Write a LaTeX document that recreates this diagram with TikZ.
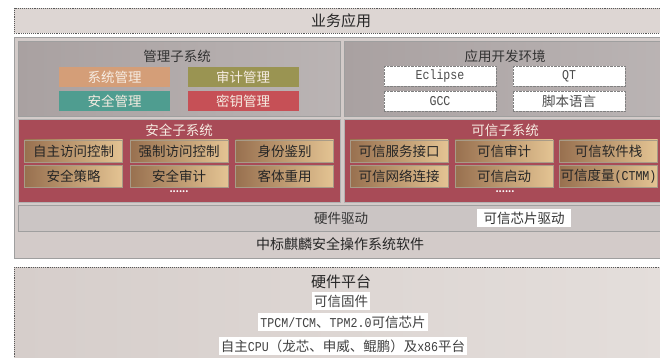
\documentclass[tikz,border=0pt]{standalone}
\usepackage{fontspec}
\setmainfont{Noto Sans CJK SC}
\newfontfamily\latmono{Liberation Mono}[FakeStretch=0.86]

\definecolor{bgtop}{HTML}{DDD6D3}
\definecolor{osgray}{HTML}{D3CBC9}
\definecolor{drvgray}{HTML}{CBC5C4}
\definecolor{hwgray}{HTML}{D6CECB}
\definecolor{hwlight}{HTML}{E4DEDB}
\definecolor{pnldark}{HTML}{A9A1A1}
\definecolor{pnllight}{HTML}{D9D3D1}
\definecolor{mtan}{HTML}{D49E78}
\definecolor{molive}{HTML}{9A9452}
\definecolor{mteal}{HTML}{4F9D90}
\definecolor{mred}{HTML}{C65056}
\definecolor{secred}{HTML}{A84B57}
\definecolor{btnl}{HTML}{98704F}
\definecolor{btnr}{HTML}{E4C493}
\definecolor{cream}{HTML}{F6ECE2}

\begin{document}
\begin{tikzpicture}[x=1pt,y=-1pt,
  every node/.style={font=\fontsize{13.5}{16}\selectfont,text=black!80},
  panel/.style={draw=gray!75,line width=1pt},
  dotbox/.style={draw=black!65,densely dotted,line width=0.9pt},
  title/.style={font=\fontsize{15}{18}\selectfont,text=black!85},
  mbtn/.style={minimum width=111pt,minimum height=20pt,inner sep=0pt,text=cream},
  wbox/.style={fill=white,draw=gray,densely dotted,minimum width=112pt,minimum height=20pt,inner sep=0pt,text=black!70},
  sbtn/.style={draw=gray!60!btnr,left color=btnl,right color=btnr,minimum width=98pt,minimum height=22pt,inner sep=0pt,text=black!85},
  hbox/.style={fill=white,minimum height=18pt,inner sep=2pt,text=black!75}]

  \useasboundingbox (0,0) rectangle (660,358);

  % top row
  \draw[dotbox,fill=bgtop] (14,8) rectangle (668,33);
  \node[title] (app) at (341,20.5) {业务应用};

  % operating system
  \draw[panel,fill=osgray] (14,38) rectangle (668,258);
  \draw[panel,left color=pnldark,middle color=pnllight,right color=pnldark!80!white] (18,42) rectangle (340,117);
  \draw[panel,left color=pnldark,middle color=pnllight,right color=pnldark!80!white] (344,42) rectangle (668,117);
  \draw[draw=gray!60,fill=secred] (18,119) rectangle (340,202);
  \draw[draw=gray!60,fill=secred] (344,119) rectangle (668,202);
  \draw[panel,fill=drvgray] (18,205) rectangle (668,231);

  % management subsystem
  \node (mgmt) at (177,56) {管理子系统};
  \node[mbtn,fill=mtan] (sysm) at (114.5,77) {系统管理};
  \node[mbtn,fill=molive] (audm) at (243,77) {审计管理};
  \node[mbtn,fill=mteal] (secm) at (114.5,101) {安全管理};
  \node[mbtn,fill=mred] (keym) at (243,101) {密钥管理};

  % development environment
  \node (dev) at (505,56) {应用开发环境};
  \node[wbox] (ecl) at (440,76.5) {\latmono Eclipse};
  \node[wbox] (qt) at (569,76.5) {\latmono QT};
  \node[wbox] (gcc) at (440,101) {\latmono GCC};
  \node[wbox] (scr) at (569,101) {脚本语言};

  % security subsystem
  \node[text=cream] (sec) at (179,130) {安全子系统};
  \node[sbtn] (dac) at (73.5,151) {自主访问控制};
  \node[sbtn] (mac) at (179,151) {强制访问控制};
  \node[sbtn] (ident) at (284.5,151) {身份鉴别};
  \node[sbtn] (pol) at (73.5,176) {安全策略};
  \node[sbtn] (saud) at (179,176) {安全审计};
  \node[sbtn] (reuse) at (284.5,176) {客体重用};
  \node[text=white,font=\fontsize{9}{9}\bfseries\selectfont] (secmore) at (179,192) {......};

  % trusted subsystem
  \node[text=cream] (trust) at (505,130) {可信子系统};
  \node[sbtn] (tsi) at (399,151) {可信服务接口};
  \node[sbtn] (taud) at (504,151) {可信审计};
  \node[sbtn] (tss) at (608.5,151) {可信软件栈};
  \node[sbtn] (tnc) at (399,176) {可信网络连接};
  \node[sbtn] (tboot) at (504,176) {可信启动};
  \node[sbtn] (ctmm) at (608.5,176) {可信度量{\latmono (CTMM)}};
  \node[text=white,font=\fontsize{9}{9}\bfseries\selectfont] (trustmore) at (505,192) {......};

  % drivers
  \node (drv) at (341,218) {硬件驱动};
  \node[fill=white,minimum width=94pt,minimum height=18pt,inner sep=0pt] (tpmdrv) at (524,218) {可信芯片驱动};
  \node[font=\fontsize{14}{16}\selectfont,text=black!85] (os) at (340,244.5) {中标麒麟安全操作系统软件};

  % hardware platform
  \draw[dotbox,left color=hwgray,right color=hwlight] (14,267) rectangle (668,365);
  \node[title] (hw) at (341,282) {硬件平台};
  \node[hbox] (fw) at (341,301) {可信固件};
  \node[hbox] (chip) at (343,322) {{\latmono TPCM/TCM}、{\latmono TPM2.0}可信芯片};
  \node[hbox] (cpu) at (343,346) {自主{\latmono CPU}（龙芯、申威、鲲鹏）及{\latmono x86}平台};
\end{tikzpicture}
\end{document}
